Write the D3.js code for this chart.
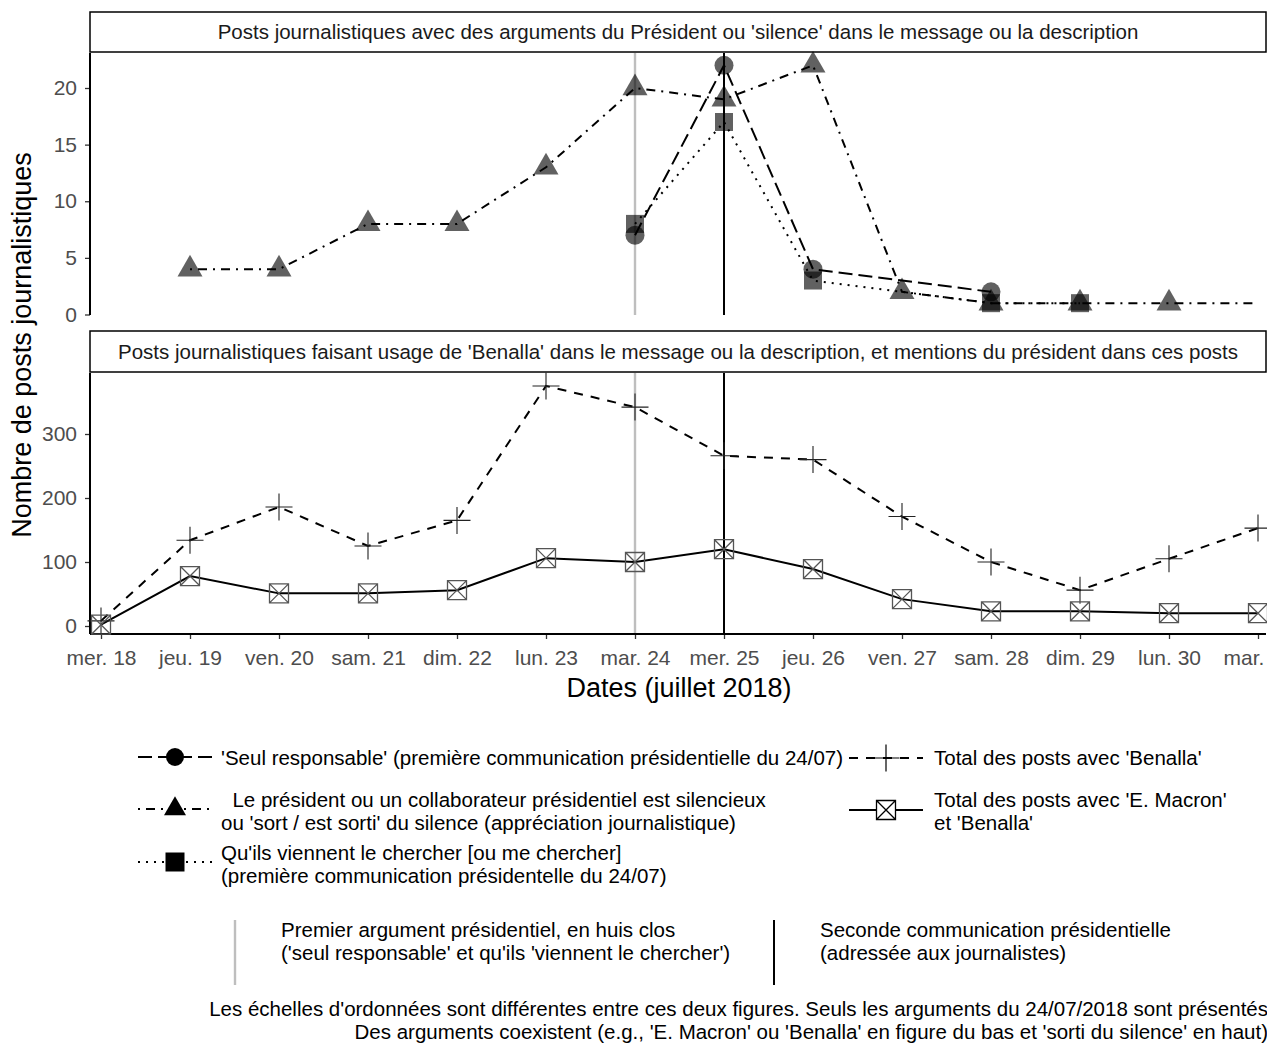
<!DOCTYPE html>
<html>
<head>
<meta charset="utf-8">
<script src="https://cdn.jsdelivr.net/npm/d3@7"></script>
<style>
  body { margin: 0; background: #fff; }
  svg { font-family: "Liberation Sans", Arial, sans-serif; }
</style>
</head>
<body>
<svg id="chart" width="1267" height="1043"></svg>
<script>
// jours (juillet 2018)
const days = [18, 19, 20, 21, 22, 23, 24, 25, 26, 27, 28, 29, 30, 31];
const dayLabels = ["mer. 18", "jeu. 19", "ven. 20", "sam. 21", "dim. 22", "lun. 23", "mar. 24",
                   "mer. 25", "jeu. 26", "ven. 27", "sam. 28", "dim. 29", "lun. 30", "mar. 31"];

// figure du haut
const seulDays = [24, 25, 26, 28];
const seulVals = [7, 22, 4, 2];
const silenceDays = [19, 20, 21, 22, 23, 24, 25, 26, 27, 28, 29, 30, 31];
const silenceVals = [4, 4, 8, 8, 13, 20, 19, 22, 2, 1, 1, 1, 1];
const chercherDays = [24, 25, 26, 28, 29];
const chercherVals = [8, 17, 3, 1, 1];

// figure du bas
const benallaVals = [8, 134, 186, 125, 165, 375, 342, 266, 260, 171, 100, 56, 105, 153];
const macronVals = [2, 78, 51, 51, 56, 106, 100, 120, 89, 42, 23, 23, 20, 20];

const topTicks = [0, 5, 10, 15, 20];
const bottomTicks = [0, 100, 200, 300];
const huisClosDay = 24;
const secondeDay = 25;

const svg = d3.select("#chart");
const left = 90, right = 1266;
const fs = 20.5;

const x = d3.scaleLinear().domain([18, 31]).range([101, 1258]);
const yTop = d3.scaleLinear().domain([0, 20]).range([314.5, 88]);
const yBot = d3.scaleLinear().domain([0, 300]).range([626, 434]);

const topPanel = { y0: 53, y1: 315 };
const botPanel = { y0: 373, y1: 634 };

const zip = (ds, vs) => ds.map((d, i) => ({ day: d, v: vs[i] }));
const seul = zip(seulDays, seulVals);
const silence = zip(silenceDays, silenceVals);
const chercher = zip(chercherDays, chercherVals);
const benalla = zip(days, benallaVals);
const macron = zip(days, macronVals);

// strips
function strip(y0, y1, label) {
  svg.append("rect")
    .attr("x", left).attr("y", y0).attr("width", right - left).attr("height", y1 - y0)
    .attr("fill", "#fff").attr("stroke", "#000").attr("stroke-width", 1.5);
  svg.append("text")
    .attr("x", (left + right) / 2).attr("y", (y0 + y1) / 2 + 7)
    .attr("text-anchor", "middle").attr("font-size", fs).attr("fill", "#1a1a1a")
    .text(label);
}
strip(12, 52, "Posts journalistiques avec des arguments du Président ou 'silence' dans le message ou la description");
strip(331, 372, "Posts journalistiques faisant usage de 'Benalla' dans le message ou la description, et mentions du président dans ces posts");

// reference lines
function vlines(p) {
  svg.append("line").attr("x1", x(huisClosDay)).attr("x2", x(huisClosDay))
    .attr("y1", p.y0).attr("y2", p.y1).attr("stroke", "#bebebe").attr("stroke-width", 2.4);
  svg.append("line").attr("x1", x(secondeDay)).attr("x2", x(secondeDay))
    .attr("y1", p.y0).attr("y2", p.y1).attr("stroke", "#000").attr("stroke-width", 2);
}
vlines(topPanel);
vlines(botPanel);

// y axes
function yAxis(scale, ticks, p) {
  const g = svg.append("g").attr("transform", `translate(${left},0)`)
    .call(d3.axisLeft(scale).tickValues(ticks).tickSize(5).tickPadding(8));
  g.select(".domain").remove();
  g.selectAll(".tick line").attr("stroke", "#333").attr("stroke-width", 1.3);
  g.selectAll(".tick text").attr("font-size", 21).attr("fill", "#4d4d4d")
    .attr("font-family", "Liberation Sans, Arial, sans-serif");
  svg.append("line").attr("x1", left).attr("x2", left).attr("y1", p.y0).attr("y2", p.y1)
    .attr("stroke", "#000").attr("stroke-width", 2);
}
yAxis(yTop, topTicks, topPanel);
yAxis(yBot, bottomTicks, botPanel);

// x axis
const gx = svg.append("g").attr("transform", `translate(0,${botPanel.y1})`)
  .call(d3.axisBottom(x).tickValues(days).tickFormat((d, i) => dayLabels[i]).tickSize(5).tickPadding(11));
gx.select(".domain").remove();
gx.selectAll(".tick line").attr("stroke", "#333").attr("stroke-width", 1.3);
gx.selectAll(".tick text").attr("font-size", 21).attr("fill", "#4d4d4d")
  .attr("font-family", "Liberation Sans, Arial, sans-serif");
svg.append("line").attr("x1", left).attr("x2", right).attr("y1", botPanel.y1).attr("y2", botPanel.y1)
  .attr("stroke", "#000").attr("stroke-width", 2);

// axis titles
svg.append("text").attr("x", 679).attr("y", 697).attr("text-anchor", "middle")
  .attr("font-size", 27).attr("fill", "#000").text("Dates (juillet 2018)");
svg.append("text").attr("transform", "translate(31,345) rotate(-90)").attr("text-anchor", "middle")
  .attr("font-size", 27).attr("fill", "#000").text("Nombre de posts journalistiques");

// marker helpers
const circleSym = d3.symbol().type(d3.symbolCircle);
const triPath = s => { const h = s * Math.sqrt(3) / 2; return `M0,${-h * 2 / 3}L${s / 2},${h / 3}L${-s / 2},${h / 3}Z`; };
const sqPath = s => `M${-s / 2},${-s / 2}h${s}v${s}h${-s}Z`;
const plusPath = s => `M${-s / 2},0h${s}M0,${-s / 2}v${s}`;
const boxXPath = s => `M${-s / 2},${-s / 2}h${s}v${s}h${-s}ZM${-s / 2},${-s / 2}L${s / 2},${s / 2}M${s / 2},${-s / 2}L${-s / 2},${s / 2}`;

function points(data, y, path, attrs) {
  const sel = svg.append("g").selectAll("path").data(data).enter().append("path")
    .attr("transform", d => `translate(${x(d.day)},${y(d.v)})`)
    .attr("d", path);
  Object.entries(attrs).forEach(([k, v]) => sel.attr(k, v));
}
function line(data, y, dash, w) {
  svg.append("path").datum(data)
    .attr("d", d3.line().x(d => x(d.day)).y(d => y(d.v)))
    .attr("fill", "none").attr("stroke", "#000").attr("stroke-width", w || 2)
    .attr("stroke-dasharray", dash);
}

const dashLong = "14,6";
const dashDotDash = "2,6,9,6";
const dashDot = "2,6";
const dashBen = "9,8";

// top panel markers (gris semi-transparent)
const grey = { fill: "#000", "fill-opacity": 0.62 };
points(seul, yTop, circleSym.size(Math.PI * 9.5 * 9.5)(), grey);
points(silence.filter(d => d.day < 31), yTop, triPath(25), grey);
points(chercher, yTop, sqPath(18), grey);
line(seul, yTop, dashLong);
line(silence, yTop, dashDotDash);
line(chercher, yTop, dashDot);

// bottom panel
line(benalla, yBot, dashBen);
line(macron, yBot, null);
points(benalla, yBot, plusPath(27), { fill: "none", stroke: "#222", "stroke-width": 1.1 });
points(macron, yBot, boxXPath(19), { fill: "none", stroke: "#555", "stroke-width": 1.3 });

// legend
const leg = svg.append("g").attr("font-size", fs).attr("fill", "#000");
function key(cx, cy, dash, marker) {
  leg.append("line").attr("x1", cx - 37).attr("x2", cx + 37).attr("y1", cy).attr("y2", cy)
    .attr("stroke", "#000").attr("stroke-width", 2).attr("stroke-dasharray", dash);
  const m = leg.append("path").attr("transform", `translate(${cx},${cy})`).attr("d", marker.d);
  Object.entries(marker.a).forEach(([k, v]) => m.attr(k, v));
}
function ltext(tx, ys, lines) {
  lines.forEach((t, i) => leg.append("text").attr("x", tx).attr("y", ys[i]).attr("xml:space", "preserve").text(t));
}
key(175, 757, dashLong, { d: circleSym.size(Math.PI * 9 * 9)(), a: { fill: "#000" } });
ltext(221, [765], ["'Seul responsable' (première communication présidentielle du 24/07)"]);
key(175, 809, dashDotDash, { d: triPath(22), a: { fill: "#000" } });
ltext(221, [807, 830], ["  Le président ou un collaborateur présidentiel est silencieux",
                        "ou 'sort / est sorti' du silence (appréciation journalistique)"]);
key(175, 862, dashDot, { d: sqPath(19), a: { fill: "#000" } });
ltext(221, [860, 883], ["Qu'ils viennent le chercher [ou me chercher]",
                        "(première communication présidentelle du 24/07)"]);
key(886, 758, dashBen, { d: plusPath(27), a: { fill: "none", stroke: "#000", "stroke-width": 1.2 } });
ltext(934, [765], ["Total des posts avec 'Benalla'"]);
key(886, 810, null, { d: boxXPath(19), a: { fill: "#fff", stroke: "#000", "stroke-width": 1.3 } });
ltext(934, [807, 830], ["Total des posts avec 'E. Macron'", "et 'Benalla'"]);

// second legend: reference lines
leg.append("line").attr("x1", 235).attr("x2", 235).attr("y1", 920).attr("y2", 985)
  .attr("stroke", "#bebebe").attr("stroke-width", 2.4);
ltext(281, [937, 960], ["Premier argument présidentiel, en huis clos",
                        "('seul responsable' et qu'ils 'viennent le chercher')"]);
leg.append("line").attr("x1", 774).attr("x2", 774).attr("y1", 920).attr("y2", 985)
  .attr("stroke", "#000").attr("stroke-width", 2);
ltext(820, [937, 960], ["Seconde communication présidentielle", "(adressée aux journalistes)"]);

// caption
svg.append("g").attr("font-size", fs).attr("text-anchor", "end").attr("fill", "#000")
  .selectAll("text")
  .data(["Les échelles d'ordonnées sont différentes entre ces deux figures. Seuls les arguments du 24/07/2018 sont présentés",
         "Des arguments coexistent (e.g., 'E. Macron' ou 'Benalla' en figure du bas et 'sorti du silence' en haut)"])
  .enter().append("text")
  .attr("x", 1268).attr("y", (d, i) => 1016 + i * 23)
  .text(d => d);
</script>
</body>
</html>
